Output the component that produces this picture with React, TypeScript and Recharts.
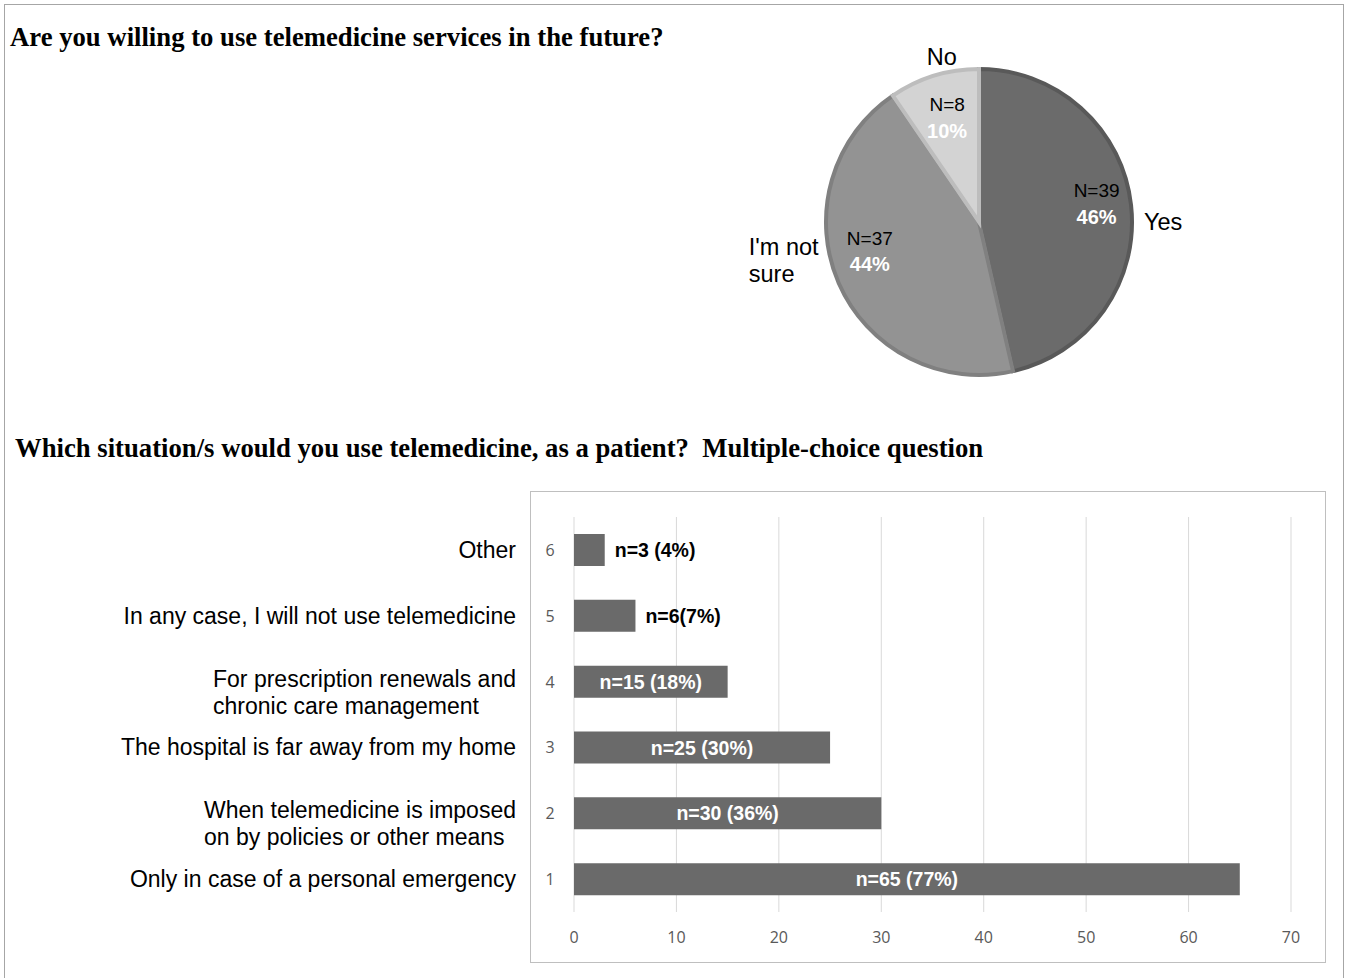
import React from "react";
import { PieChart, Pie, Cell, BarChart, Bar, XAxis, YAxis, CartesianGrid, LabelList } from "recharts";

// ---------- Data ----------
const pieNames = ["Yes", "I'm not\nsure", "No"];
const pieCounts = [39, 37, 8];
const pieColors = ["#6b6b6b", "#939393", "#d3d3d3"];
const pieStrokes = ["#595959", "#808080", "#bdbdbd"];

const categories = [
  "Only in case of a personal emergency",
  "When telemedicine is imposed\non by policies or other means",
  "The hospital is far away from my home",
  "For prescription renewals and\nchronic care management",
  "In any case, I will not use telemedicine",
  "Other",
];
const ranks = ["1", "2", "3", "4", "5", "6"];
const counts = [65, 30, 25, 15, 6, 3];
const barLabels = ["n=65 (77%)", "n=30 (36%)", "n=25 (30%)", "n=15 (18%)", "n=6(7%)", "n=3 (4%)"];
const xTicks = [0, 10, 20, 30, 40, 50, 60, 70];

// ---------- Layout-only constants ----------
const SANS = "'Liberation Sans', Arial, sans-serif";
const SERIF = "'Liberation Serif', 'Times New Roman', serif";
const TICKFONT = "'Open Sans', sans-serif";
const innerLabelAngle = [8.7, 195, 107];
const innerLabelRadius = [119, 113, 109];
const outerLabelAngle = [0, 193.5, 103];

const pieData = pieNames.map((name, i) => ({ name, value: pieCounts[i] }));
const pieTotal = pieCounts.reduce((a, b) => a + b, 0);
const barData = ranks.map((r, i) => ({ rank: r, value: counts[i], cat: categories[i], label: barLabels[i] }));

let _canvas: HTMLCanvasElement | null = null;
function measure(text: string, font: string): number {
  if (!_canvas) _canvas = document.createElement("canvas");
  const ctx = _canvas.getContext("2d")!;
  ctx.font = font;
  return ctx.measureText(text).width;
}

const RAD = Math.PI / 180;

function renderPieLabel(props: any) {
  const { cx, cy, outerRadius, index, value } = props;
  const a = innerLabelAngle[index] * RAD;
  const r = innerLabelRadius[index];
  const lx = cx + r * Math.cos(a);
  const ly = cy - r * Math.sin(a);
  const pct = Math.round((value / pieTotal) * 100);
  const oa = outerLabelAngle[index] * RAD;
  const orr = outerRadius + 12;
  const ox = cx + orr * Math.cos(oa);
  const oy = cy - orr * Math.sin(oa);
  const c = Math.cos(oa);
  const anchor = c > 0.3 ? "start" : c < -0.3 ? "end" : "middle";
  const lines = pieNames[index].split("\n");
  const outerSize = 23.5;
  const outerFont = outerSize + "px " + SANS;
  let tx = ox;
  let ta: any = anchor;
  if (lines.length > 1) {
    const w = Math.max(...lines.map((l) => measure(l, outerFont)));
    if (anchor === "end") { tx = ox - w; ta = "start"; }
  }
  const baseY = anchor === "middle" && Math.sin(oa) > 0 ? oy - 4 : oy - ((lines.length - 1) * 27) / 2;
  return (
    <g key={"pl" + index}>
      <text x={lx} y={ly - 13} textAnchor="middle" dominantBaseline="central" fontFamily={SANS} fontSize={19} fill="#000">
        {"N=" + value}
      </text>
      <text x={lx} y={ly + 13} textAnchor="middle" dominantBaseline="central" fontFamily={SANS} fontSize={20} fontWeight="bold" fill="#fff">
        {pct + "%"}
      </text>
      {lines.map((l, k) => (
        <text key={k} x={tx} y={baseY + k * 27} textAnchor={ta} dominantBaseline="central" fontFamily={SANS} fontSize={outerSize} fill="#000">
          {l}
        </text>
      ))}
    </g>
  );
}

function CategoryTick(props: any) {
  const { x, y, payload } = props;
  const idx = ranks.indexOf(String(payload.value));
  const label = categories[idx] || "";
  const lines = label.split("\n");
  const size = 23;
  const font = size + "px " + SANS;
  const right = x - 58;
  return (
    <g>
      <text x={x - 24} y={y} textAnchor="middle" dominantBaseline="central" fontFamily={TICKFONT} fontSize={16} fill="#595959">
        {payload.value}
      </text>
      {lines.length === 1 ? (
        <text x={right} y={y} textAnchor="end" dominantBaseline="central" fontFamily={SANS} fontSize={size} fill="#000">
          {label}
        </text>
      ) : (
        (() => {
          const w = Math.max(...lines.map((l) => measure(l, font)));
          return lines.map((l, k) => (
            <text key={k} x={right - w} y={y - 3 + k * 27} textAnchor="start" dominantBaseline="central" fontFamily={SANS} fontSize={size} fill="#000">
              {l}
            </text>
          ));
        })()
      )}
    </g>
  );
}

function BarValueLabel(props: any) {
  const { x, y, width, height, index } = props;
  const d = barData[index];
  if (!d) return null;
  const inside = d.value >= 10;
  return (
    <text
      x={inside ? x + width / 2 : x + width + 10}
      y={y + height / 2}
      textAnchor={inside ? "middle" : "start"}
      dominantBaseline="central"
      fontFamily={SANS}
      fontSize={19.5}
      fontWeight="bold"
      fill={inside ? "#fff" : "#000"}
    >
      {d.label}
    </text>
  );
}

export default function App() {
  return (
    <div style={{ position: "absolute", left: 0, top: 0, width: 1346, height: 978, background: "#fff", overflow: "hidden" }}>
      <div style={{ position: "absolute", left: 4, top: 4, width: 1340, height: 990, border: "1px solid #a6a6a6", boxSizing: "border-box" }} />
      <div style={{ position: "absolute", left: 10, top: 22, fontFamily: SERIF, fontWeight: "bold", fontSize: 26.7, color: "#000", whiteSpace: "nowrap", lineHeight: "30px" }}>
        Are you willing to use telemedicine services in the future?
      </div>
      <div style={{ position: "absolute", left: 700, top: 20 }}>
        <PieChart width={600} height={400} margin={{ top: 0, right: 0, bottom: 0, left: 0 }}>
          <Pie
            data={pieData}
            dataKey="value"
            nameKey="name"
            cx={279}
            cy={202}
            outerRadius={153}
            startAngle={90}
            endAngle={-270}
            isAnimationActive={false}
            labelLine={false}
            label={renderPieLabel}
            strokeWidth={4}
          >
            {pieData.map((d, i) => (
              <Cell key={i} fill={pieColors[i]} stroke={pieStrokes[i]} />
            ))}
          </Pie>
        </PieChart>
      </div>
      <div style={{ position: "absolute", left: 15, top: 433, fontFamily: SERIF, fontWeight: "bold", fontSize: 26.7, color: "#000", whiteSpace: "pre", lineHeight: "30px" }}>
        {"Which situation/s would you use telemedicine, as a patient?  Multiple-choice question"}
      </div>
      <div style={{ position: "absolute", left: 530, top: 491, width: 796, height: 472, border: "1px solid #bfbfbf", boxSizing: "border-box" }} />
      <div style={{ position: "absolute", left: 100, top: 491 }}>
        <BarChart width={1221} height={471} data={barData} layout="vertical" margin={{ top: 26, right: 30, bottom: 20, left: 0 }} barSize={32}>
          <CartesianGrid horizontal={false} vertical={true} stroke="#d9d9d9" />
          <XAxis
            type="number"
            domain={[0, 70]}
            ticks={xTicks}
            axisLine={false}
            tickLine={false}
            tickSize={0}
            tickMargin={20}
            height={30}
            tick={{ fill: "#595959", fontSize: 16, fontFamily: TICKFONT }}
            interval={0}
          />
          <YAxis
            type="category"
            dataKey="rank"
            reversed
            width={474}
            axisLine={false}
            tickLine={false}
            tickSize={0}
            tickMargin={0}
            tick={<CategoryTick />}
            interval={0}
          />
          <Bar dataKey="value" fill="#6a6a6a" isAnimationActive={false}>
            <LabelList dataKey="value" content={<BarValueLabel />} />
          </Bar>
        </BarChart>
      </div>
    </div>
  );
}
